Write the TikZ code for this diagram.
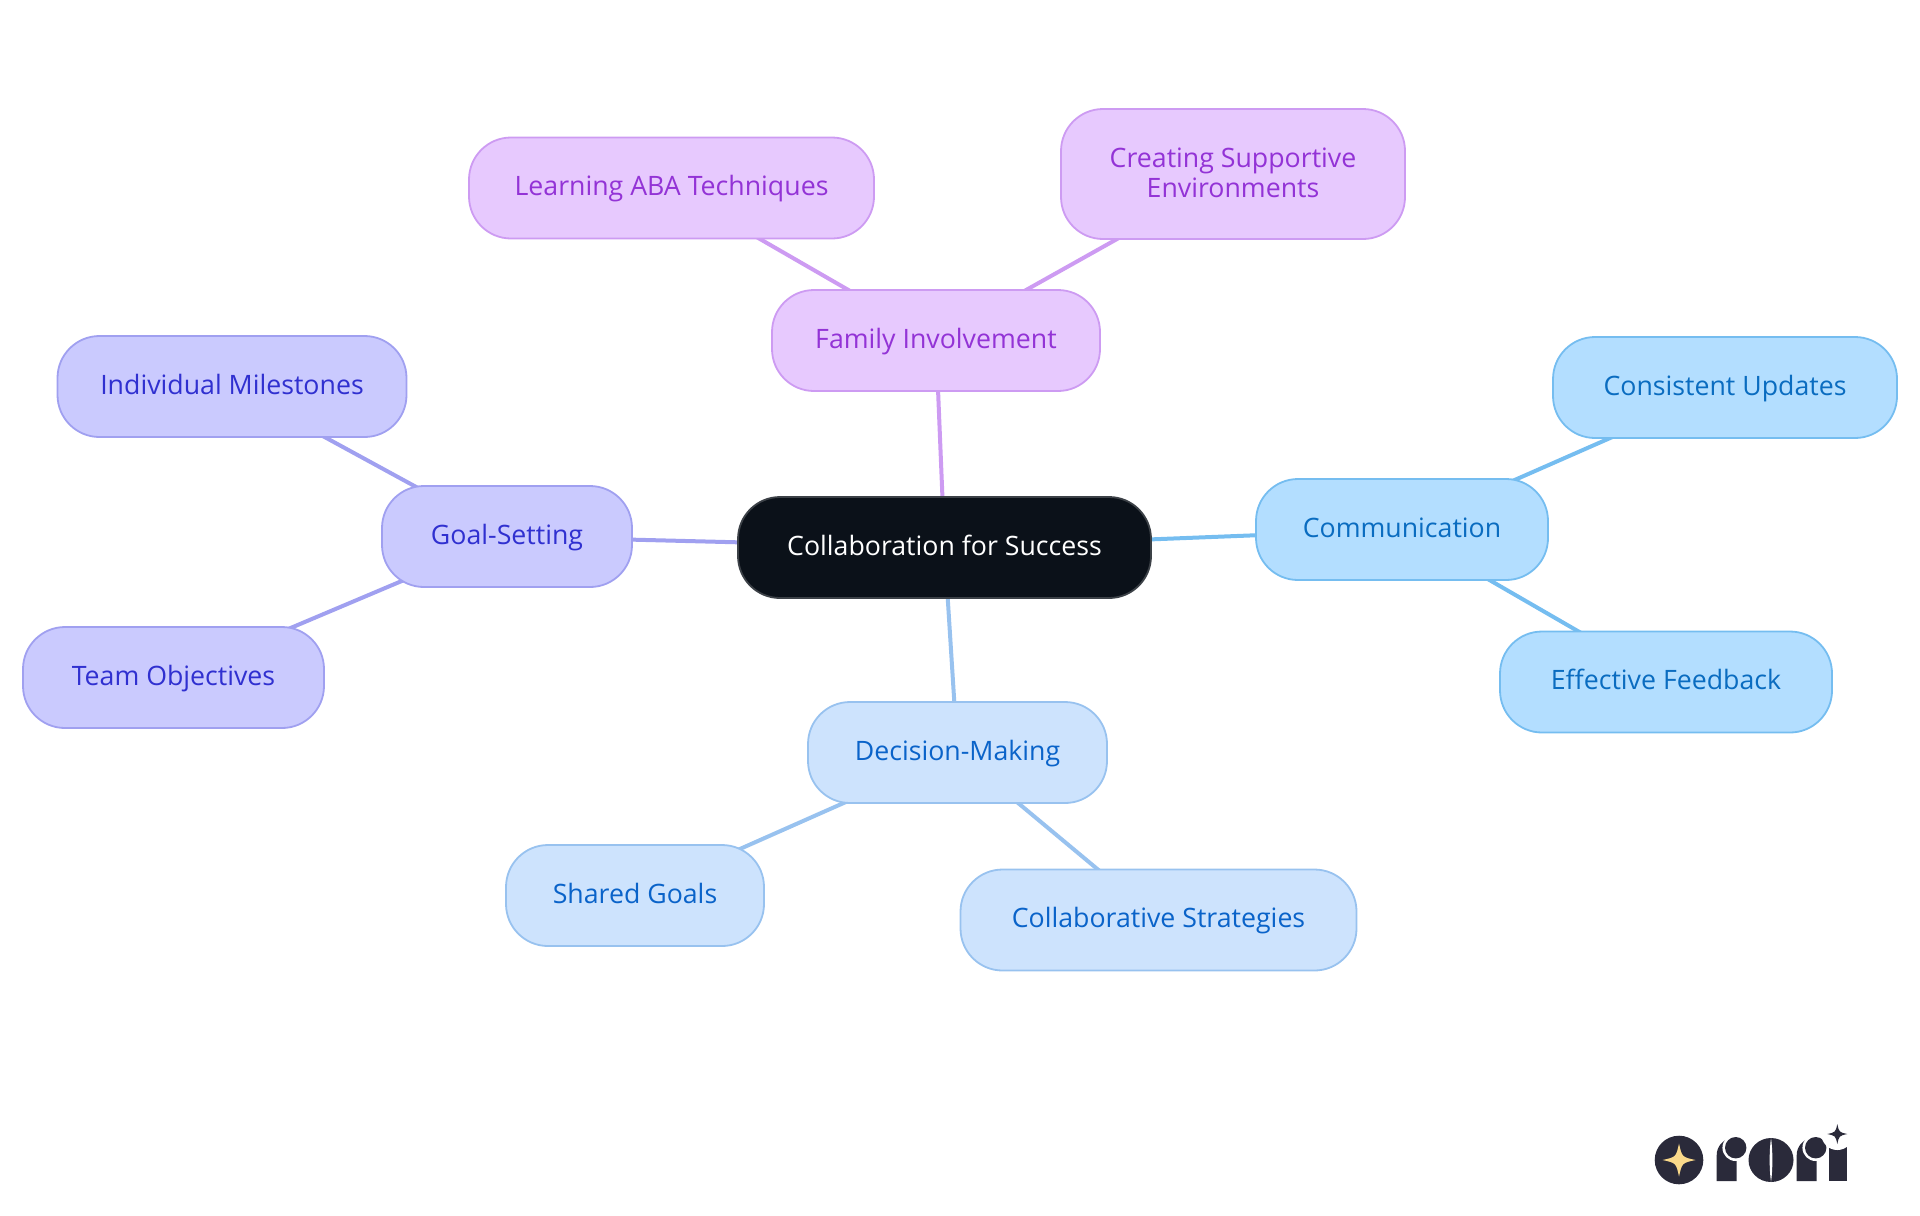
\documentclass[tikz,border=0pt]{standalone}
\usepackage{fontspec}
\setmainfont{Open Sans}
\usetikzlibrary{backgrounds}

\definecolor{rootfill}{HTML}{0B1119}
\definecolor{rootline}{HTML}{3C4147}
\definecolor{familyfill}{HTML}{E7C9FE}
\definecolor{familyline}{HTML}{CD9BF2}
\definecolor{familytext}{HTML}{9333D6}
\definecolor{goalfill}{HTML}{CACAFE}
\definecolor{goalline}{HTML}{A0A0F0}
\definecolor{goaltext}{HTML}{3030D0}
\definecolor{commfill}{HTML}{B3DEFF}
\definecolor{commline}{HTML}{75BDF0}
\definecolor{commtext}{HTML}{0A6CC0}
\definecolor{decisionfill}{HTML}{CDE3FD}
\definecolor{decisionline}{HTML}{98C2EF}
\definecolor{decisiontext}{HTML}{0A63C9}
\definecolor{logodark}{HTML}{2A2A3A}
\definecolor{logogold}{HTML}{FAD98A}

\tikzset{
  box/.style={draw,line width=0.018cm,rounded corners=0.42cm,minimum height=1.01cm,
    inner sep=0pt,align=center,text height=0.24cm,text depth=0.09cm,
    font=\fontsize{7.6}{8.55}\selectfont},
  rootbox/.style={box,fill=rootfill,draw=rootline,text=white},
  familybox/.style={box,fill=familyfill,draw=familyline,text=familytext},
  goalbox/.style={box,fill=goalfill,draw=goalline,text=goaltext},
  commbox/.style={box,fill=commfill,draw=commline,text=commtext},
  decisionbox/.style={box,fill=decisionfill,draw=decisionline,text=decisiontext},
  link/.style={line width=0.04cm}
}
\newcommand{\logostar}[4]{\fill[#4,shift={(#1,#2)},scale=#3] (1,0) .. controls (0.18,0.18) .. (0,1) .. controls (-0.18,0.18) .. (-1,0) .. controls (-0.18,-0.18) .. (0,-1) .. controls (0.18,-0.18) .. (1,0) -- cycle;}

\begin{document}
\begin{tikzpicture}
\useasboundingbox (0,0) rectangle (19.2,-12.15);

\node[rootbox,minimum width=4.13cm] (root) at (9.445,-5.475) {Collaboration for Success};

\node[familybox,minimum width=3.28cm] (family) at (9.36,-3.405) {Family Involvement};
\node[familybox,minimum width=4.05cm] (aba) at (6.715,-1.88) {Learning ABA Techniques};
\node[familybox,minimum width=3.44cm,minimum height=1.3cm,text height=,text depth=0.03cm] (supportive) at (12.33,-1.74) {Creating Supportive\\Environments};

\node[goalbox,minimum width=2.5cm] (goal) at (5.07,-5.365) {Goal-Setting};
\node[goalbox,minimum width=3.49cm] (milestones) at (2.32,-3.865) {Individual Milestones};
\node[goalbox,minimum width=3.01cm] (objectives) at (1.735,-6.775) {Team Objectives};

\node[commbox,minimum width=2.92cm] (comm) at (14.02,-5.295) {Communication};
\node[commbox,minimum width=3.44cm] (updates) at (17.25,-3.875) {Consistent Updates};
\node[commbox,minimum width=3.32cm] (feedback) at (16.66,-6.82) {Effective Feedback};

\node[decisionbox,minimum width=2.99cm] (decision) at (9.575,-7.525) {Decision-Making};
\node[decisionbox,minimum width=2.58cm] (shared) at (6.35,-8.955) {Shared Goals};
\node[decisionbox,minimum width=3.96cm] (strategies) at (11.585,-9.2) {Collaborative Strategies};

\begin{scope}[on background layer]
\draw[link,familyline] (root.center) -- (family.center);
\draw[link,familyline] (family.center) -- (aba.center);
\draw[link,familyline] (family.center) -- (supportive.center);
\draw[link,goalline] (root.center) -- (goal.center);
\draw[link,goalline] (goal.center) -- (milestones.center);
\draw[link,goalline] (goal.center) -- (objectives.center);
\draw[link,commline] (root.center) -- (comm.center);
\draw[link,commline] (comm.center) -- (updates.center);
\draw[link,commline] (comm.center) -- (feedback.center);
\draw[link,decisionline] (root.center) -- (decision.center);
\draw[link,decisionline] (decision.center) -- (shared.center);
\draw[link,decisionline] (decision.center) -- (strategies.center);
\end{scope}

\fill[logodark] (16.79,-11.6) circle (0.243);
\logostar{16.79}{-11.6}{0.165}{logogold}

\fill[logodark] (17.167,-11.81) -- (17.167,-11.55) arc (180:100:0.17) -- (17.367,-11.383) -- (17.367,-11.81) -- cycle;
\fill[white] (17.357,-11.477) circle (0.133);
\fill[logodark] (17.357,-11.477) circle (0.107);

\fill[logodark] (17.71,-11.6) ellipse (0.225 and 0.22);
\fill[white] (17.71,-11.38) .. controls (17.728,-11.5) and (17.728,-11.7) .. (17.71,-11.82) .. controls (17.692,-11.7) and (17.692,-11.5) .. (17.71,-11.38) -- cycle;

\fill[logodark] (17.967,-11.81) -- (17.967,-11.55) arc (180:100:0.17) -- (18.167,-11.383) -- (18.167,-11.81) -- cycle;
\fill[white] (18.157,-11.477) circle (0.133);
\fill[logodark] (18.157,-11.477) circle (0.107);

\fill[logodark] (18.29,-11.81) rectangle (18.467,-11.45);
\fill[white] (18.373,-11.34) circle (0.16);
\logostar{18.373}{-11.34}{0.1}{logodark}
\end{tikzpicture}
\end{document}
